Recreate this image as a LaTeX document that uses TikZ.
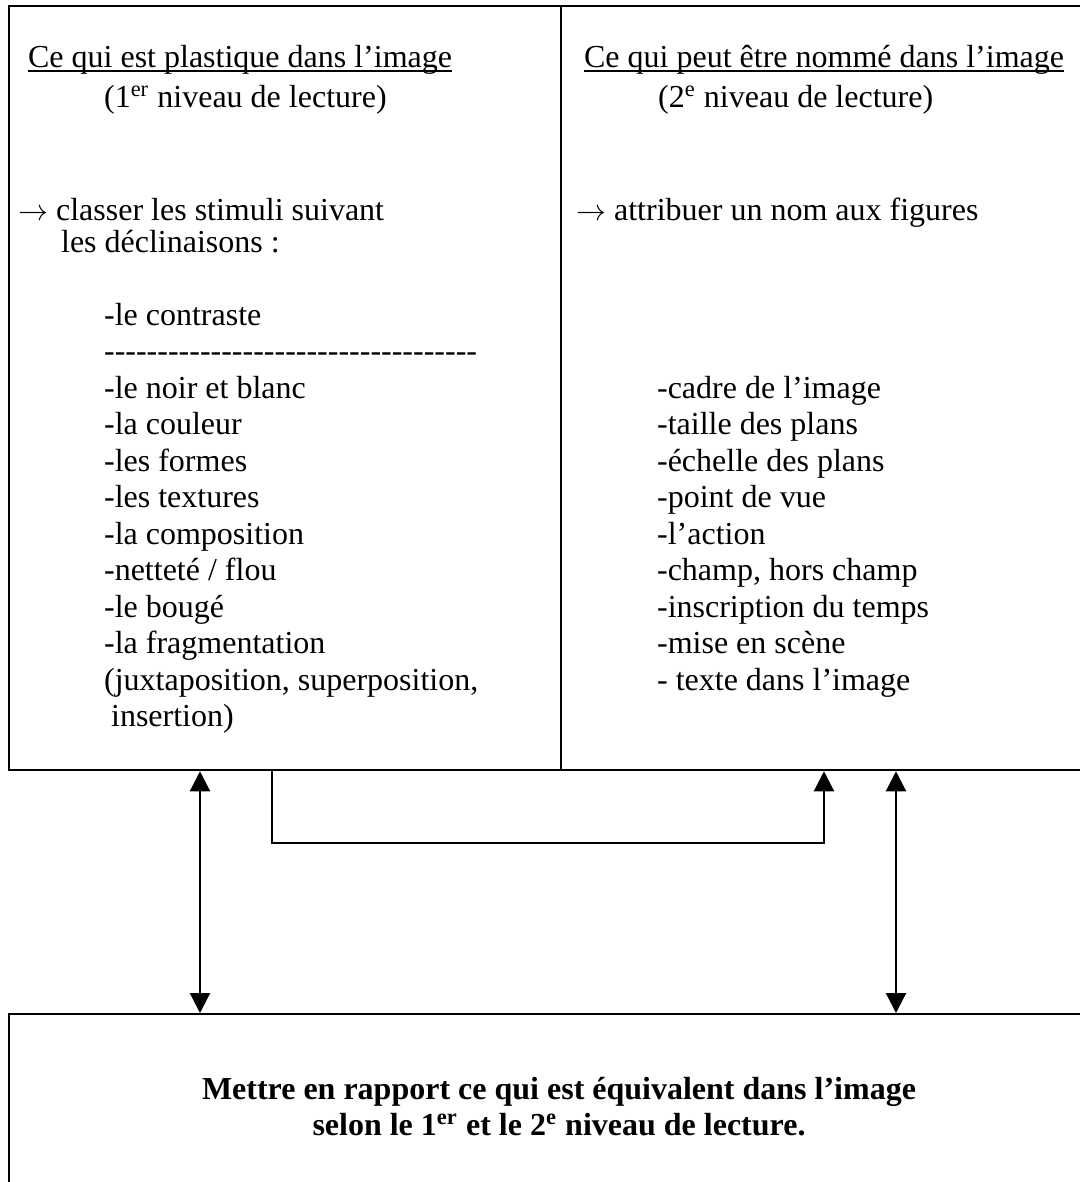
\documentclass[tikz,border=0pt]{standalone}
\usepackage{fontspec}
\setmainfont{Liberation Serif}
\usetikzlibrary{arrows.meta,positioning}
\newcommand{\souligne}[1]{\setbox0\hbox{#1}\rlap{\rule[-2pt]{\wd0}{0.7pt}}\box0}
\newcommand{\tirets}{\foreach \n in {1,...,35}{-\kern0pt}}

\begin{document}
\begin{tikzpicture}[x=0.4pt, y=-0.4pt, line width=0.9pt, every node/.style={font=\fontsize{12.8}{14.6}\selectfont}, cell/.style={draw, anchor=north west, inner sep=0pt, minimum height=305.6pt}, lbl/.style={anchor=base west, inner sep=0pt}, bold/.style={anchor=base, inner sep=0pt, font=\fontsize{12.8}{14.6}\selectfont\bfseries}, arr/.style={-{Triangle[width=8pt,length=8pt]}}, dbl/.style={{Triangle[width=8pt,length=8pt]}-{Triangle[width=8pt,length=8pt]}}]
\useasboundingbox (0,0) rectangle (1080,1182);
\clip (0,0) rectangle (1080,1182);
% the two cells and the lower box
\node[cell, minimum width=220.8pt] (plast) at (8,5) {};
\node[cell, minimum width=216pt] (nomme) at (560,5) {};
\node[cell, minimum width=436pt, minimum height=80pt] (rapport) at (8,1013) {};
% left cell
\node[lbl] (pt) at (27,67) {\souligne{Ce qui est plastique dans l’image}};
\node[lbl] (pn) at (103,107) {(1\textsuperscript{er} niveau de lecture)};
\node[lbl] (pa) at (17,220) {$\rightarrow$ classer les stimuli suivant};
\node[lbl] (pb) at (60,252) {les déclinaisons :};
\node[lbl] (p0) at (103,325) {-le contraste};
\node[lbl] (p1) at (103,361.5) {\tirets};
\node[lbl] (p2) at (103,398) {-le noir et blanc};
\node[lbl] (p3) at (103,434.5) {-la couleur};
\node[lbl] (p4) at (103,471) {-les formes};
\node[lbl] (p5) at (103,507.5) {-les textures};
\node[lbl] (p6) at (103,544) {-la composition};
\node[lbl] (p7) at (103,580.5) {-netteté / flou};
\node[lbl] (p8) at (103,617) {-le bougé};
\node[lbl] (p9) at (103,653.5) {-la fragmentation};
\node[lbl] (p10) at (103,690) {(juxtaposition, superposition,};
\node[lbl] (p11) at (110,726.5) {insertion)};
% right cell
\node[lbl] (nt) at (583,67) {\souligne{Ce qui peut être nommé dans l’image}};
\node[lbl] (nn) at (657,107) {(2\textsuperscript{e} niveau de lecture)};
\node[lbl] (na) at (575,220) {$\rightarrow$ attribuer un nom aux figures};
\node[lbl] (n2) at (656,398) {-cadre de l’image};
\node[lbl] (n3) at (656,434.5) {-taille des plans};
\node[lbl] (n4) at (656,471) {-échelle des plans};
\node[lbl] (n5) at (656,507.5) {-point de vue};
\node[lbl] (n6) at (656,544) {-l’action};
\node[lbl] (n7) at (656,580.5) {-champ, hors champ};
\node[lbl] (n8) at (656,617) {-inscription du temps};
\node[lbl] (n9) at (656,653.5) {-mise en scène};
\node[lbl] (n10) at (656,690) {- texte dans l’image};
% lower box
\node[bold] (r1) at (559,1099) {Mettre en rapport ce qui est équivalent dans l’image};
\node[bold] (r2) at (559,1135) {selon le 1\textsuperscript{er} et le 2\textsuperscript{e} niveau de lecture.};
% connectors
\draw[dbl] (plast.south -| 200,0) -- (rapport.north -| 200,0);
\draw[dbl] (nomme.south -| 896,0) -- (rapport.north -| 896,0);
\draw[arr] (plast.south -| 272,0) -- ++(0,72) -| (nomme.south -| 824,0);
\end{tikzpicture}
\end{document}
